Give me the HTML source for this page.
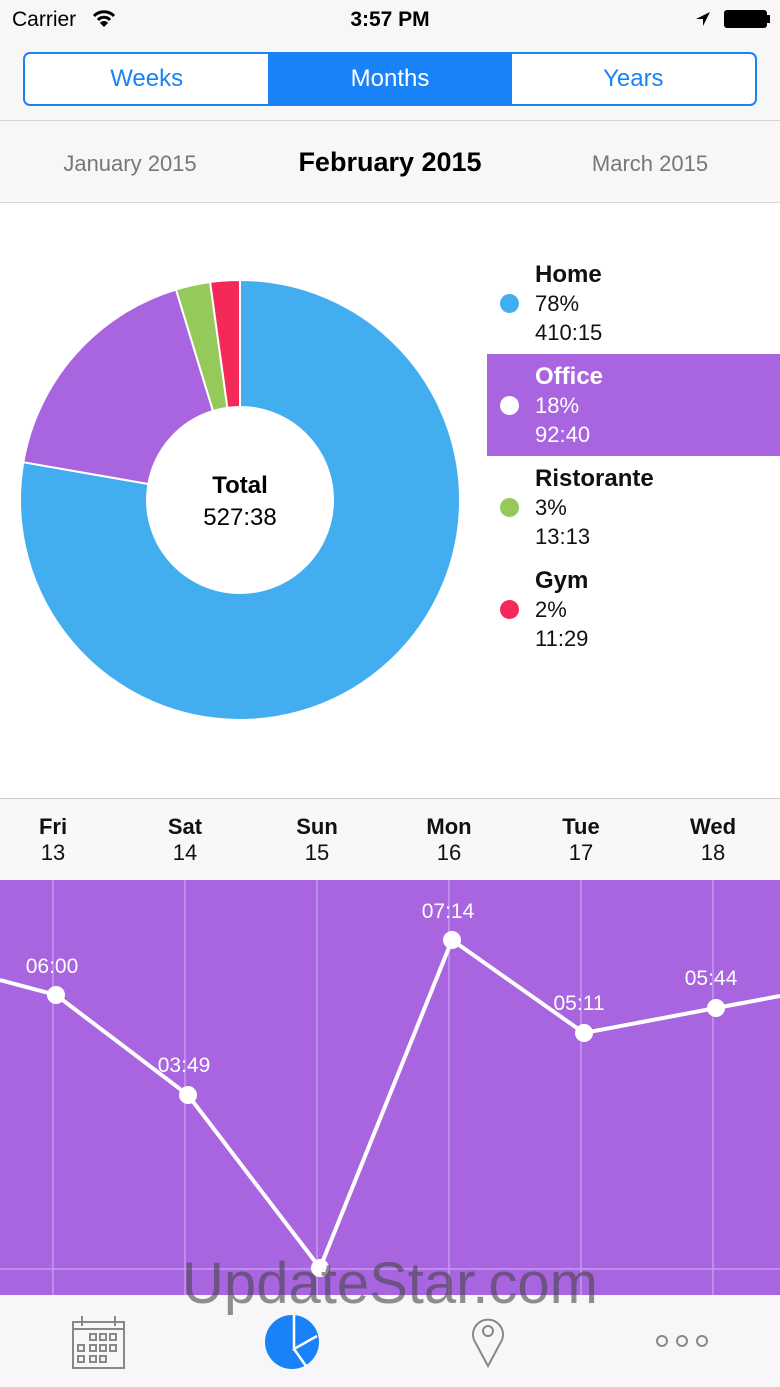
<!DOCTYPE html>
<html><head><meta charset="utf-8"><style>
*{margin:0;padding:0;box-sizing:border-box}
body{width:780px;height:1387px;position:relative;background:#fff;font-family:"Liberation Sans",sans-serif;overflow:hidden}
.abs{position:absolute}
.top{left:0;top:0;width:780px;height:203px;background:#f7f7f7;border-bottom:1px solid #d6d6d6}
.seg{left:23px;top:52px;width:734px;height:54px;border:2px solid #1a82f7;border-radius:7px;display:flex;overflow:hidden;background:#fff}
.seg div{flex:1;text-align:center;line-height:50px;font-size:24px;color:#1a82f7}
.seg .on{background:#1a82f7;color:#fff}
.lg{position:absolute;font-size:22px;color:#111}
.lg b{font-size:24px;display:block}
.dot{position:absolute;width:19px;height:19px;border-radius:50%}
.day{position:absolute;top:814px;width:100px;text-align:center;font-size:22px;line-height:26px;color:#111}
.pl{position:absolute;color:#fff;font-size:21px;width:80px;text-align:center}
</style></head><body>
<div class="abs top"></div>
<div class="abs" style="left:12px;top:8px;font-size:21px">Carrier</div>
<svg class="abs" style="left:92px;top:10px" width="24" height="18" viewBox="0 0 24 18"><path d="M2 6 A14 14 0 0 1 22 6" stroke="#000" stroke-width="3" fill="none"/><path d="M6 10 A8 8 0 0 1 18 10" stroke="#000" stroke-width="3" fill="none"/><path d="M12 17 L8 13 A5 5 0 0 1 16 13Z" fill="#000"/></svg>
<div class="abs" style="left:0;width:780px;text-align:center;top:8px;font-size:21px;font-weight:bold">3:57 PM</div>
<svg class="abs" style="left:695px;top:11px" width="16" height="16"><path d="M15 1 L1 8 L8 8 L8 15Z" fill="#000"/></svg>
<div class="abs" style="left:724px;top:10px;width:43px;height:18px;background:#000;border-radius:3px"></div>
<div class="abs" style="left:767px;top:15px;width:3px;height:8px;background:#000"></div>
<div class="abs seg"><div>Weeks</div><div class="on">Months</div><div>Years</div></div>
<div class="abs" style="left:0;top:120px;width:780px;height:1px;background:#d6d6d6"></div>
<div class="abs" style="left:40px;width:180px;text-align:center;top:151px;font-size:22px;color:#777">January 2015</div>
<div class="abs" style="left:240px;width:300px;text-align:center;top:147px;font-size:27px;font-weight:bold;color:#000">February 2015</div>
<div class="abs" style="left:560px;width:180px;text-align:center;top:151px;font-size:22px;color:#777">March 2015</div>

<svg class="abs" style="left:0;top:0" width="480" height="780">
<g stroke="#fff" stroke-width="2">
<path d="M240 280 A220 220 0 1 1 23.3 462.2 L148.4 484 A93 93 0 1 0 240 407Z" fill="#42aeef"/>
<path d="M23.3 462.2 A220 220 0 0 1 176 289.5 L213 411 A93 93 0 0 0 148.4 484Z" fill="#a965e0"/>
<path d="M176 289.5 A220 220 0 0 1 210.1 282 L227.4 407.9 A93 93 0 0 0 213 411Z" fill="#95c95a"/>
<path d="M210.1 282 A220 220 0 0 1 240 280 L240 407 A93 93 0 0 0 227.4 407.9Z" fill="#f5285a"/>
</g></svg>
<div class="abs" style="left:140px;width:200px;text-align:center;top:472px;font-size:24px;font-weight:bold">Total</div>
<div class="abs" style="left:140px;width:200px;text-align:center;top:504px;font-size:24px">527:38</div>

<div class="abs" style="left:487px;top:354px;width:293px;height:102px;background:#a965e0"></div>
<div class="dot" style="left:500px;top:294px;background:#42aeef"></div>
<div class="lg" style="left:535px;top:260px;line-height:29px"><b>Home</b>78%<br>410:15</div>
<div class="dot" style="left:500px;top:396px;background:#fff"></div>
<div class="lg" style="left:535px;top:362px;line-height:29px;color:#fff"><b>Office</b>18%<br>92:40</div>
<div class="dot" style="left:500px;top:498px;background:#95c95a"></div>
<div class="lg" style="left:535px;top:464px;line-height:29px"><b>Ristorante</b>3%<br>13:13</div>
<div class="dot" style="left:500px;top:600px;background:#f5285a"></div>
<div class="lg" style="left:535px;top:566px;line-height:29px"><b>Gym</b>2%<br>11:29</div>

<div class="abs" style="left:0;top:798px;width:780px;height:82px;background:#f8f8f8;border-top:1px solid #ccc"></div>
<div class="day" style="left:3px"><b>Fri</b><br>13</div>
<div class="day" style="left:135px"><b>Sat</b><br>14</div>
<div class="day" style="left:267px"><b>Sun</b><br>15</div>
<div class="day" style="left:399px"><b>Mon</b><br>16</div>
<div class="day" style="left:531px"><b>Tue</b><br>17</div>
<div class="day" style="left:663px"><b>Wed</b><br>18</div>

<svg class="abs" style="left:0;top:880px" width="780" height="415">
<rect width="780" height="415" fill="#a965e0"/>
<g stroke="#c49bec" stroke-width="1.5">
<line x1="53" y1="0" x2="53" y2="415"/><line x1="185" y1="0" x2="185" y2="415"/><line x1="317" y1="0" x2="317" y2="415"/><line x1="449" y1="0" x2="449" y2="415"/><line x1="581" y1="0" x2="581" y2="415"/><line x1="713" y1="0" x2="713" y2="415"/>
<line x1="0" y1="389" x2="780" y2="389"/></g>
<polyline points="0,100 56,115 188,215 320,388 452,60 584,153 716,128 780,116" fill="none" stroke="#fff" stroke-width="4"/>
<g fill="#fff"><circle cx="56" cy="115" r="9"/><circle cx="188" cy="215" r="9"/><circle cx="320" cy="388" r="9"/><circle cx="452" cy="60" r="9"/><circle cx="584" cy="153" r="9"/><circle cx="716" cy="128" r="9"/></g>
</svg>
<div class="pl" style="left:12px;top:955px">06:00</div>
<div class="pl" style="left:144px;top:1054px">03:49</div>
<div class="pl" style="left:408px;top:900px">07:14</div>
<div class="pl" style="left:539px;top:992px">05:11</div>
<div class="pl" style="left:671px;top:967px">05:44</div>

<div class="abs" style="left:0;top:1295px;width:780px;height:92px;background:#f7f6f9"></div>
<svg class="abs" style="left:72px;top:1314px" width="54" height="56"><g fill="none" stroke="#888" stroke-width="2"><rect x="1" y="8" width="51" height="46"/><line x1="1" y1="15" x2="52" y2="15"/><line x1="10" y1="2" x2="10" y2="12"/><line x1="43" y1="2" x2="43" y2="12"/>
<rect x="18" y="20" width="6" height="6"/><rect x="28" y="20" width="6" height="6"/><rect x="38" y="20" width="6" height="6"/><rect x="6" y="31" width="6" height="6"/><rect x="18" y="31" width="6" height="6"/><rect x="28" y="31" width="6" height="6"/><rect x="38" y="31" width="6" height="6"/><rect x="6" y="42" width="6" height="6"/><rect x="18" y="42" width="6" height="6"/><rect x="28" y="42" width="6" height="6"/></g></svg>
<svg class="abs" style="left:264px;top:1314px" width="56" height="56"><circle cx="28" cy="28" r="27" fill="#1a82f7"/><path d="M30 1 L30 35 L53 22 M30 35 L42 52" stroke="#fff" stroke-width="2.5" fill="none"/></svg>
<svg class="abs" style="left:470px;top:1314px" width="36" height="54"><path d="M18 52 L4 26 A15 15 0 1 1 32 26Z" fill="none" stroke="#888" stroke-width="2"/><circle cx="18" cy="17" r="5" fill="none" stroke="#888" stroke-width="2"/></svg>
<svg class="abs" style="left:654px;top:1332px" width="56" height="20"><g fill="none" stroke="#888" stroke-width="2"><circle cx="8" cy="9" r="5"/><circle cx="28" cy="9" r="5"/><circle cx="48" cy="9" r="5"/></g></svg>
<div class="abs" style="left:0;width:780px;text-align:center;top:1250px;font-size:58px;color:rgba(70,70,70,0.6)">UpdateStar.com</div>
</body></html>
